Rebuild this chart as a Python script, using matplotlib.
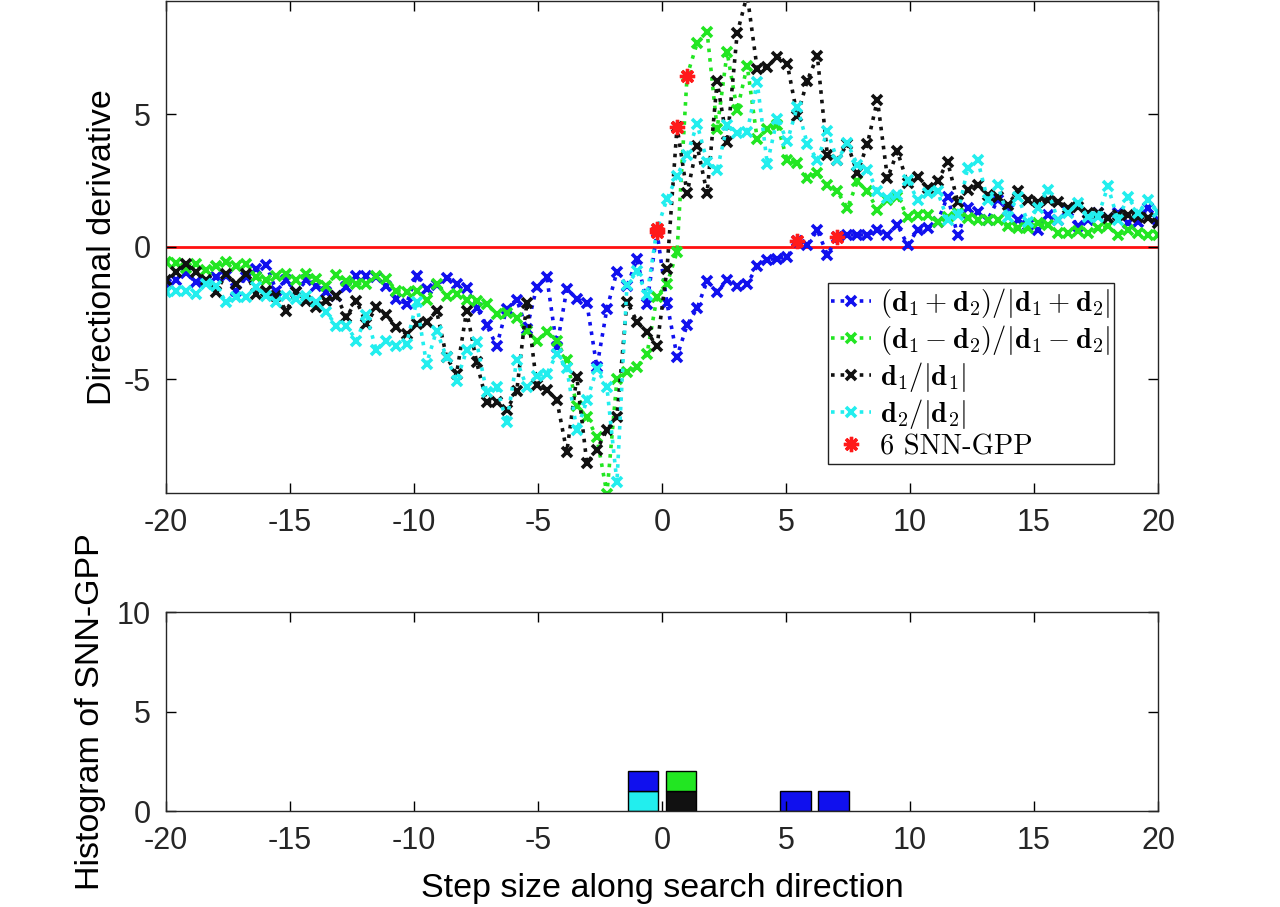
import numpy as np
import matplotlib
matplotlib.use("Agg")
import matplotlib.pyplot as plt

plt.rcParams['font.family'] = ['Liberation Sans', 'DejaVu Sans']
plt.rcParams['mathtext.fontset'] = 'cm'
plt.rcParams['axes.unicode_minus'] = False

# step sizes along the search direction
steps = np.linspace(-20, 20, 100)

# directional derivatives (100 samples each)
dd_sum = [-1.4, -1.26, -1.0, -1.35, -1.3, -1.16, -1.1, -1.66, -1.16, -0.84,
          -0.69, -1.66, -1.28, -1.72, -1.28, -1.47, -1.72, -1.85, -1.53, -1.1,
          -1.1, -1.16, -1.47, -1.97, -2.16, -1.1, -1.6, -1.45, -1.17, -1.4,
          -1.55, -2.3, -2.97, -3.75, -2.34, -2.0, -3.12, -1.52, -1.15, -3.8,
          -1.6, -1.97, -2.14, -4.55, -2.35, -0.95, -1.5, -0.48, -2.15, 0.55,
          -2.14, -4.15, -2.96, -2.33, -1.3, -1.71, -1.27, -1.5, -1.41, -0.74,
          -0.49, -0.45, -0.39, 0.2, 0.05, 0.62, -0.31, 0.35, 0.44, 0.44,
          0.44, 0.63, 0.44, 0.82, 0.06, 0.63, 0.69, 0.94, 1.89, 0.44,
          1.45, 1.32, 1.0, 1.76, 1.39, 1.0, 0.82, 0.63, 1.2, 1.0,
          1.35, 0.76, 1.0, 1.25, 1.07, 1.26, 0.88, 0.94, 1.45, 1.0]
dd_diff = [-0.59, -0.63, -0.8, -0.65, -0.9, -0.72, -0.59, -0.72, -0.65, -1.16,
           -1.28, -1.1, -1.03, -1.26, -1.03, -1.22, -1.47, -1.06, -1.3, -1.4,
           -1.4, -1.1, -1.22, -1.66, -1.72, -1.66, -2.01, -1.41, -1.85, -1.79,
           -2.0, -2.05, -2.16, -2.56, -2.49, -2.71, -3.2, -3.55, -3.23, -3.57,
           -4.3, -6.0, -6.44, -7.2, -9.33, -5.0, -4.74, -4.55, -4.05, -1.9,
           -1.41, -0.2, 6.45, 7.67, 8.1, 4.44, 7.33, 5.15, 6.82, 4.05,
           4.42, 4.6, 3.26, 3.15, 2.6, 2.77, 2.33, 2.08, 1.45, 2.46,
           2.08, 1.39, 1.76, 1.89, 1.13, 1.2, 1.2, 0.94, 1.13, 1.26,
           1.07, 1.0, 1.0, 1.0, 0.76, 0.69, 0.69, 0.88, 0.82, 0.5,
           0.5, 0.57, 0.5, 0.69, 0.76, 0.44, 0.63, 0.5, 0.44, 0.44]
dd_d1 = [-1.25, -0.97, -0.65, -0.97, -1.25, -1.72, -1.03, -1.4, -1.03, -1.79,
         -1.66, -1.85, -2.42, -1.72, -2.04, -2.29, -2.04, -1.85, -2.67, -2.04,
         -2.92, -2.29, -2.6, -3.04, -3.3, -2.92, -2.86, -2.42, -4.18, -4.8,
         -2.42, -4.37, -5.85, -5.85, -6.16, -5.47, -2.14, -5.22, -5.41, -5.79,
         -7.75, -4.91, -8.18, -7.67, -6.92, -6.42, -2.08, -2.83, -3.21, -3.77,
         -0.84, 4.53, 2.01, 3.81, 2.01, 6.24, 3.94, 8.05, 9.5, 6.7,
         6.77, 7.17, 6.89, 4.94, 6.26, 7.2, 3.46, 3.27, 3.88, 2.77,
         3.88, 5.54, 2.58, 3.59, 2.39, 2.64, 2.2, 2.46, 3.21, 1.7,
         2.14, 2.33, 1.95, 1.89, 1.57, 2.08, 1.76, 1.7, 1.76, 1.7,
         1.45, 1.51, 1.26, 1.26, 1.07, 1.2, 1.2, 1.13, 1.07, 0.88]
dd_d2 = [-1.72, -1.66, -1.66, -1.79, -1.4, -1.47, -2.1, -1.91, -1.91, -1.53,
         -1.85, -2.1, -1.85, -1.97, -1.85, -2.1, -2.48, -2.98, -2.98, -3.55,
         -2.6, -3.92, -3.55, -3.74, -3.67, -2.1, -4.43, -3.17, -4.18, -5.06,
         -3.92, -3.61, -5.5, -5.3, -6.63, -4.3, -5.3, -4.87, -4.8, -4.05,
         -4.6, -6.94, -5.81, -4.62, -5.3, -8.9, -1.45, -0.94, -1.83, 0.65,
         1.8, 2.67, 3.45, 4.63, 3.2, 2.88, 4.58, 4.3, 4.33, 6.2,
         3.13, 4.83, 3.98, 5.27, 3.88, 3.26, 4.35, 3.27, 3.9, 3.09,
         2.9, 2.08, 1.83, 1.95, 2.52, 1.76, 2.02, 2.08, 1.0, 1.2,
         2.96, 3.27, 1.76, 2.33, 1.13, 1.89, 0.94, 1.45, 2.14, 1.0,
         1.26, 1.64, 1.13, 1.13, 2.27, 1.0, 1.89, 1.26, 1.76, 1.32]

labels = [r'$(\mathbf{d}_1+\mathbf{d}_2)/|\mathbf{d}_1+\mathbf{d}_2|$',
          r'$(\mathbf{d}_1-\mathbf{d}_2)/|\mathbf{d}_1-\mathbf{d}_2|$',
          r'$\mathbf{d}_1/|\mathbf{d}_1|$',
          r'$\mathbf{d}_2/|\mathbf{d}_2|$']
colors = ['#1010ee', '#22e622', '#111111', '#22eeee']
series = [dd_sum, dd_diff, dd_d1, dd_d2]

# sample index of each SNN-GPP (first positive value after a sign change)
snn_idx = [[49, 63, 67], [52], [51], [49]]

fig = plt.figure(figsize=(12.8, 9.07), dpi=100)
ax1 = fig.add_axes([0.1297, 0.4565, 0.775, 0.5424])
ax2 = fig.add_axes([0.1297, 0.1058, 0.775, 0.2194])

ax1.axhline(0, color='#ff1010', lw=2, zorder=1)
for y, c, lab in zip(series, colors, labels):
    ax1.plot(steps, y, ':', color=c, lw=2.6, marker='x', ms=7, mew=2.6, label=lab)

snn_x = np.concatenate([steps[i] for i in snn_idx])
snn_y = np.concatenate([np.asarray(s)[i] for s, i in zip(series, snn_idx)])
ax1.plot(snn_x, snn_y, ls='none', marker=(8, 2, 0), ms=11, mew=2.4, color='#ff1a1a',
         label='%d SNN-GPP' % len(snn_x), zorder=5)

ax1.set_xlim(-20, 20)
ax1.set_ylim(-9.3, 9.27)
ax1.set_yticks([-5, 0, 5])
ax1.set_xticks(np.arange(-20, 21, 5))
ax1.set_ylabel('Directional derivative', fontsize=24.5, labelpad=4)

leg = ax1.legend(loc='upper left', bbox_to_anchor=(828 / 1280, 1 - 283 / 907),
                 bbox_transform=fig.transFigure, borderaxespad=0, fontsize=20.5,
                 fancybox=False, framealpha=1, edgecolor='#222222',
                 handlelength=1.4, handletextpad=0.3, labelspacing=0.1,
                 borderpad=0.12)
leg.get_frame().set_linewidth(1)
leg.get_texts()[4].set_family('cmr10')

# histogram of SNN-GPP locations, stacked per direction
edges = np.linspace(-20, 20, 27)
centers = (edges[:-1] + edges[1:]) / 2
width = 0.8 * (edges[1] - edges[0])
bottom = np.zeros(len(centers))
for k in [3, 2, 1, 0]:
    counts, _ = np.histogram(steps[snn_idx[k]], bins=edges)
    nz = counts > 0
    ax2.bar(centers[nz], counts[nz], width, bottom=bottom[nz], color=colors[k],
            edgecolor='black', linewidth=1)
    bottom += counts

ax2.set_xlim(-20, 20)
ax2.set_ylim(0, 10)
ax2.set_yticks([0, 5, 10])
ax2.set_xticks(np.arange(-20, 21, 5))
ax2.set_xlabel('Step size along search direction', fontsize=24.5, labelpad=12)
ax2.set_ylabel('Histogram of SNN-GPP', fontsize=24.5, labelpad=8)

for ax in (ax1, ax2):
    ax.tick_params(direction='in', top=True, right=True, length=7, width=1,
                   labelsize=22, labelcolor='#262626', pad=11)
    for sp in ax.spines.values():
        sp.set_color('#262626')
        sp.set_linewidth(1)

fig.savefig('out.png', dpi=100)
